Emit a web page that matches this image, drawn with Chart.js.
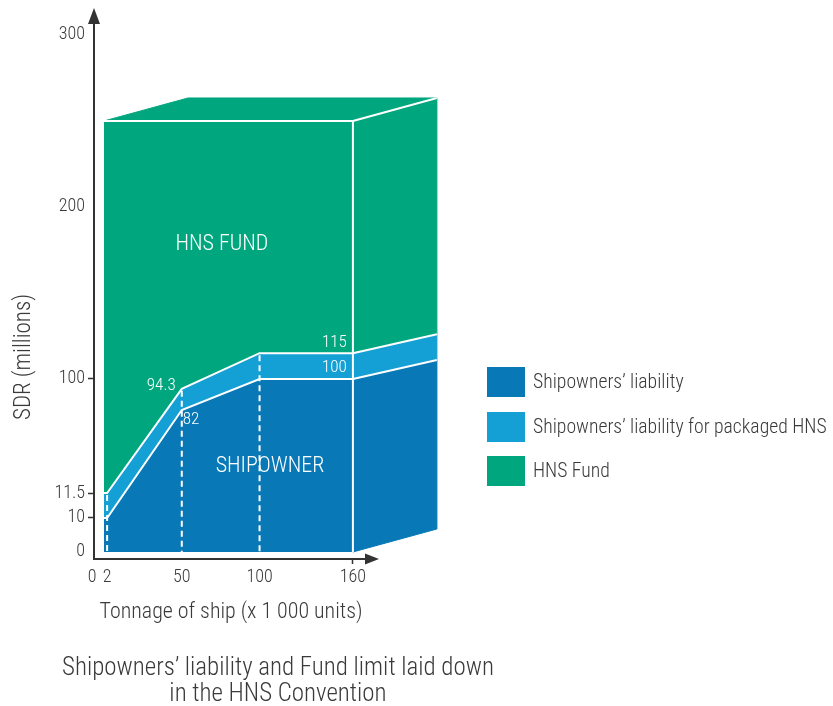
<!DOCTYPE html>
<html>
<head>
<meta charset="utf-8">
<script src="https://cdn.jsdelivr.net/npm/chart.js@4/dist/chart.umd.min.js"></script>
<style>
  html, body { margin: 0; padding: 0; background: #fff; }
  #wrap { position: relative; width: 833px; height: 706px; overflow: hidden; }
  #c { position: absolute; left: 0; top: 0; width: 833px; height: 706px; }
  .txt { position: absolute; color: #3a3a3a; white-space: nowrap; text-align: center; font-weight: 300; }
  #legend { position: absolute; left: 487px; top: 367px; }
  .lrow { display: flex; align-items: center; height: 30px; margin-bottom: 14.5px; }
  .lbox { width: 38px; height: 30px; margin-right: 8px; flex: none; }
  .ltxt { color: #3a3a3a; white-space: nowrap; line-height: 30px; display: inline-block; transform-origin: 0 50%; font-weight: 300; }
</style>
</head>
<body>
<div id="wrap">
  <canvas id="c" width="833" height="706"></canvas>
  <div id="xtitle" class="txt"></div>
  <div id="ytitle" class="txt"></div>
  <div id="caption" class="txt"></div>
  <div id="legend"></div>
</div>
<script>
// ---------------- data ----------------
const tonnage = [0, 2, 50, 100, 160];                 // x 1 000 units
const shipownerLiability = [10, 10, 82, 100, 100];    // SDR millions
const packagedLiability = [11.5, 11.5, 94.3, 115, 115];
const hnsFund = [250, 250, 250, 250, 250];
const xTickValues = [0, 2, 50, 100, 160];
const yTickValues = [0, 10, 11.5, 100, 200, 300];
const dashedAt = [2, 50, 100];
const seriesNames = ['Shipowners\u2019 liability', 'Shipowners\u2019 liability for packaged HNS', 'HNS Fund'];
const xTitle = 'Tonnage of ship (x 1 000 units)';
const yTitle = 'SDR (millions)';
const captionLines = ['Shipowners\u2019 liability and Fund limit laid down', 'in the HNS Convention'];
const regionNames = ['HNS FUND', 'SHIPOWNER'];

// ---------------- style ----------------
const DARK = '#0879b6', LIGHT = '#14a0d5', GREEN = '#00a67d', AXIS = '#333333', TEXT = '#3a3a3a';
const W = 300; // light weight

function hasFont(name) {
  const c = document.createElement('canvas').getContext('2d');
  const s = 'abcdefghijklmnopqrstuvwxyzABCDEFGHIJ0123456789';
  let diff = false;
  ['monospace', 'serif'].forEach(fb => {
    c.font = '40px ' + fb; const a = c.measureText(s).width;
    c.font = '40px "' + name + '", ' + fb; const b = c.measureText(s).width;
    if (Math.abs(a - b) > 0.5) diff = true;
  });
  return diff;
}
const FAM = ['Liberation Sans Narrow', 'Roboto Condensed', 'Noto Sans Condensed', 'Open Sans Condensed',
             'DejaVu Sans Condensed', 'Liberation Sans', 'Roboto'].find(hasFont) || 'sans-serif';
const FONT = '"' + FAM + '", "Liberation Sans", Arial, sans-serif';
const mc = document.createElement('canvas').getContext('2d');
function textW(text, size) { mc.font = W + ' ' + size + 'px ' + FONT; return mc.measureText(text).width; }
// size that makes `text` span `width`, capped at maxSize; k squeezes horizontally if the cap was hit
function fit(text, width, maxSize) {
  let size = 100 * width / textW(text, 100);
  if (size > maxSize) size = maxSize;
  return { size: +size.toFixed(2), k: Math.min(1, width / textW(text, size)) };
}

const tickSize = 18;
const valueFit = fit('94.3', 29, 19);
const regionFit = fit(regionNames[0], 93, 22);

// ---------------- piecewise (schematic) scale ----------------
class PiecewiseScale extends Chart.LinearScale {
  static id = 'piecewise';
  static defaults = {};
  _dec(v) {
    const b = this.options.breaks, n = b.length - 1;
    if (v <= b[0][0]) return b[0][1] + (v - b[0][0]) * (b[1][1] - b[0][1]) / (b[1][0] - b[0][0]);
    for (let i = 1; i <= n; i++) {
      if (v <= b[i][0]) { const t = (v - b[i - 1][0]) / (b[i][0] - b[i - 1][0]); return b[i - 1][1] + t * (b[i][1] - b[i - 1][1]); }
    }
    return b[n][1] + (v - b[n][0]) * (b[n][1] - b[n - 1][1]) / (b[n][0] - b[n - 1][0]);
  }
  _val(d) {
    const b = this.options.breaks, n = b.length - 1;
    for (let i = 1; i <= n; i++) {
      if (d <= b[i][1] || i === n) { const t = (d - b[i - 1][1]) / (b[i][1] - b[i - 1][1]); return b[i - 1][0] + t * (b[i][0] - b[i - 1][0]); }
    }
  }
  getPixelForValue(value) {
    if (value === null || value === undefined || isNaN(value)) return NaN;
    return this.getPixelForDecimal(this._dec(+value));
  }
  getValueForPixel(pixel) { return this._val(this.getDecimalForPixel(pixel)); }
}
Chart.register(PiecewiseScale);

// ---------------- 3D box, dashed guides, value labels ----------------
const valueLabels = [
  { series: packagedLiability, index: 2, align: 'right', dx: -6, dy: -3 },
  { series: shipownerLiability, index: 2, align: 'left', dx: 1, dy: 10 },
  { series: packagedLiability, index: 4, align: 'right', dx: -6, dy: -10 },
  { series: shipownerLiability, index: 4, align: 'right', dx: -6, dy: -11 }
];
const regionLabels = [
  { text: regionNames[0], x: 75.8, y: 178 },
  { text: regionNames[1], x: 106.7, y: 34 }
];

function poly(ctx, pts, color) {
  ctx.beginPath();
  pts.forEach((p, i) => i ? ctx.lineTo(p[0], p[1]) : ctx.moveTo(p[0], p[1]));
  ctx.closePath();
  ctx.fillStyle = color; ctx.strokeStyle = color; ctx.lineWidth = 1;
  ctx.fill(); ctx.stroke();
}
function seg(ctx, x1, y1, x2, y2) { ctx.beginPath(); ctx.moveTo(x1, y1); ctx.lineTo(x2, y2); ctx.stroke(); }
function squeezedText(ctx, text, x, y, k) { ctx.save(); ctx.translate(x, y); ctx.scale(k, 1); ctx.fillText(text, 0, 0); ctx.restore(); }

const boxPlugin = {
  id: 'box3d',
  afterDatasetsDraw(chart) {
    const { ctx } = chart, xs = chart.scales.x, ys = chart.scales.y;
    const n = tonnage.length - 1;
    const xl = xs.getPixelForValue(tonnage[0]), xr = xs.getPixelForValue(tonnage[n]);
    const y0 = ys.getPixelForValue(0), yS = ys.getPixelForValue(shipownerLiability[n]);
    const yP = ys.getPixelForValue(packagedLiability[n]), yF = ys.getPixelForValue(hnsFund[n]);
    const dx = 84, dyEdge = -23, dyBand = -19;
    ctx.save();
    // side face
    poly(ctx, [[xr, y0], [xr, yS], [xr + dx, yS + dyBand], [xr + dx, y0 + dyEdge]], DARK);
    poly(ctx, [[xr, yS], [xr, yP], [xr + dx, yP + dyBand], [xr + dx, yS + dyBand]], LIGHT);
    poly(ctx, [[xr, yP], [xr, yF], [xr + dx, yF + dyEdge], [xr + dx, yP + dyBand]], GREEN);
    // top face
    poly(ctx, [[xl, yF], [xr, yF], [xr + dx, yF + dyEdge], [xl + dx, yF + dyEdge]], GREEN);
    // white edges
    ctx.strokeStyle = '#fff'; ctx.lineWidth = 2; ctx.lineCap = 'butt';
    seg(ctx, xl, yF, xr, yF);
    seg(ctx, xr, yF, xr, y0);
    seg(ctx, xr, yF, xr + dx, yF + dyEdge);
    seg(ctx, xr, yP, xr + dx, yP + dyBand);
    seg(ctx, xr, yS, xr + dx, yS + dyBand);
    // dashed guides
    ctx.setLineDash([6, 4]);
    dashedAt.forEach(v => {
      const i = tonnage.indexOf(v);
      const px = xs.getPixelForValue(v);
      seg(ctx, px, ys.getPixelForValue(packagedLiability[i]) + 2, px, y0);
    });
    ctx.setLineDash([]);
    // value labels
    ctx.fillStyle = '#fff';
    ctx.textBaseline = 'middle';
    ctx.font = W + ' ' + valueFit.size + 'px ' + FONT;
    valueLabels.forEach(l => {
      const v = l.series[l.index];
      ctx.textAlign = l.align;
      squeezedText(ctx, String(v), xs.getPixelForValue(tonnage[l.index]) + l.dx, ys.getPixelForValue(v) + l.dy, valueFit.k);
    });
    // region labels
    ctx.font = W + ' ' + regionFit.size + 'px ' + FONT;
    ctx.textAlign = 'center';
    regionLabels.forEach(l => squeezedText(ctx, l.text, xs.getPixelForValue(l.x), ys.getPixelForValue(l.y), regionFit.k));
    ctx.restore();
  },
  afterDraw(chart) {
    const { ctx, chartArea } = chart;
    const ax = chartArea.left, ay = chartArea.bottom;
    ctx.save();
    ctx.fillStyle = AXIS;
    ctx.beginPath(); ctx.moveTo(ax, 8); ctx.lineTo(ax - 6, 24); ctx.lineTo(ax + 6, 24); ctx.closePath(); ctx.fill();
    const tip = chartArea.right + 11;
    ctx.beginPath(); ctx.moveTo(tip, ay); ctx.lineTo(tip - 14, ay - 5.5); ctx.lineTo(tip - 14, ay + 5.5); ctx.closePath(); ctx.fill();
    ctx.restore();
  }
};

const yMarked = [10, 11.5, 100];
const xMarked = [160];
const pts = arr => tonnage.map((t, i) => ({ x: t, y: arr[i] }));

new Chart(document.getElementById('c'), {
  type: 'line',
  data: {
    datasets: [
      { label: seriesNames[0], data: pts(shipownerLiability), backgroundColor: DARK, borderColor: '#fff', borderWidth: 2, fill: 'origin', pointRadius: 0, tension: 0 },
      { label: seriesNames[1], data: pts(packagedLiability), backgroundColor: LIGHT, borderColor: '#fff', borderWidth: 2, fill: '-1', pointRadius: 0, tension: 0 },
      { label: seriesNames[2], data: pts(hnsFund), backgroundColor: GREEN, borderColor: '#fff', borderWidth: 2, fill: '-1', pointRadius: 0, tension: 0 }
    ]
  },
  options: {
    responsive: false,
    animation: false,
    events: [],
    layout: { padding: { left: 0, top: 20, right: 465, bottom: 84 } },
    plugins: { legend: { display: false }, tooltip: { enabled: false }, filler: { drawTime: 'beforeDatasetsDraw' } },
    scales: {
      x: {
        type: 'linear', min: -6.43, max: 169.7, bounds: 'data',
        afterBuildTicks: s => { s.ticks = xTickValues.map(v => ({ value: v })); },
        afterFit: s => { s.height = 63; },
        ticks: { autoSkip: false, maxRotation: 0, minRotation: 0, padding: 3, color: TEXT,
          font: { family: FONT, size: tickSize, weight: W },
          callback: v => v === 0 ? '0\u2003\u2002' : String(v) },
        grid: { drawOnChartArea: false, tickLength: 5, tickWidth: 1.5,
          tickColor: c => (c.tick && xMarked.includes(c.tick.value)) ? AXIS : 'rgba(0,0,0,0)' },
        border: { color: AXIS, width: 2 }
      },
      y: {
        type: 'piecewise', min: -2, max: 309, bounds: 'data',
        breaks: [[0, 0.0130], [10, 0.0761], [11.5, 0.1224], [82, 0.2764], [100, 0.3340], [200, 0.6531], [300, 0.9722]],
        afterBuildTicks: s => { s.ticks = yTickValues.map(v => ({ value: v })); },
        afterFit: s => { s.width = 94; },
        ticks: { autoSkip: false, padding: 3, color: TEXT, font: { family: FONT, size: tickSize, weight: W },
          callback: v => String(v) },
        grid: { drawOnChartArea: false, tickLength: 6, tickWidth: 1.5,
          tickColor: c => (c.tick && yMarked.includes(c.tick.value)) ? AXIS : 'rgba(0,0,0,0)' },
        border: { color: AXIS, width: 2 }
      }
    }
  },
  plugins: [boxPlugin]
});

// ---------------- HTML texts: axis titles, caption, legend ----------------
function place(el, html, f, left, top, width, lineH, rot) {
  el.innerHTML = html;
  el.style.fontFamily = FONT; el.style.fontSize = f.size + 'px';
  el.style.lineHeight = lineH + 'px';
  el.style.left = left + 'px'; el.style.top = top + 'px'; el.style.width = width + 'px';
  el.style.transformOrigin = '50% 50%';
  el.style.transform = (rot ? 'rotate(' + rot + 'deg) ' : '') + 'scaleX(' + f.k + ')';
}
place(document.getElementById('xtitle'), xTitle, fit(xTitle, 263, 22), 0, 611 - 12, 462, 24, 0);
place(document.getElementById('ytitle'), yTitle, fit(yTitle, 137, 23), 23 - 100, 357 - 12, 200, 24, -90);
place(document.getElementById('caption'), captionLines.join('<br>'), fit(captionLines[0], 432, 26), 0, 667 - 13, 556, 26, 0);

const legFit = fit(seriesNames[1], 294, 21.5);
const lg = document.getElementById('legend');
[DARK, LIGHT, GREEN].forEach((col, i) => {
  const row = document.createElement('div'); row.className = 'lrow';
  const box = document.createElement('div'); box.className = 'lbox'; box.style.background = col;
  const t = document.createElement('div'); t.className = 'ltxt'; t.textContent = seriesNames[i];
  t.style.fontFamily = FONT; t.style.fontSize = legFit.size + 'px'; t.style.transform = 'scaleX(' + legFit.k + ')';
  row.appendChild(box); row.appendChild(t); lg.appendChild(row);
});
</script>
</body>
</html>
